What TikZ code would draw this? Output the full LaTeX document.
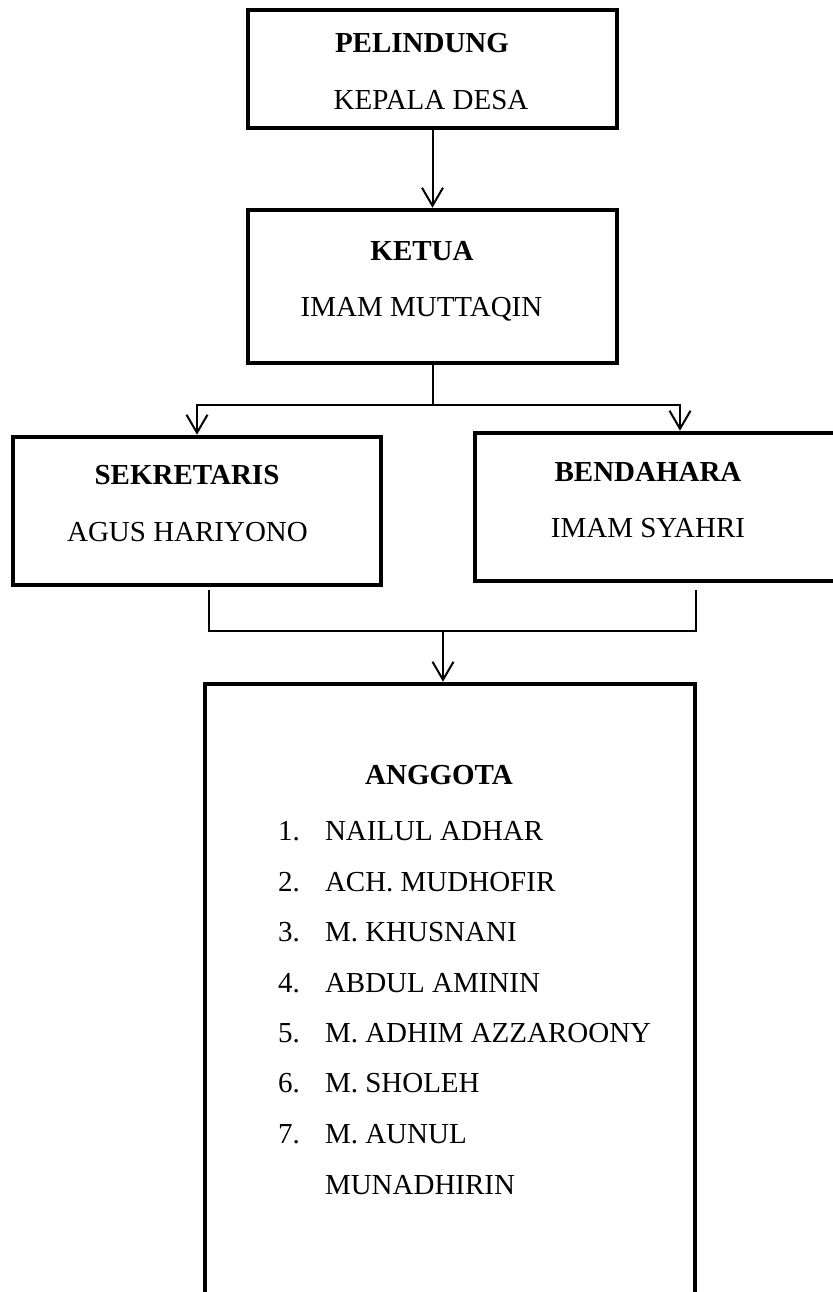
\documentclass[tikz,border=0pt]{standalone}
\usepackage{fontspec}
\setmainfont{Liberation Serif}
\usetikzlibrary{arrows.meta}

\begin{document}
\begin{tikzpicture}[line width=0.04cm,>={Straight Barb[length=0.36cm,width=0.42cm]},
  box/.style={draw,line width=0.09cm,minimum width=7.38cm,minimum height=2.36cm},
  head/.style={anchor=base,font=\fontsize{16.5}{20}\selectfont\bfseries},
  person/.style={anchor=base,font=\fontsize{16.5}{20}\selectfont},
  member/.style={anchor=base west,inner sep=0pt,font=\fontsize{16.5}{20}\selectfont}]
\useasboundingbox (0,0) rectangle (16.66,25.84);
% boxes
\node[box] (pelindung) at (8.65,24.46) {};
\node[box,minimum height=3.06cm] (ketua) at (8.65,20.11) {};
\node[box,minimum width=7.36cm,minimum height=2.96cm] (sekretaris) at (3.94,15.62) {};
\node[box,minimum width=8.2cm,minimum height=2.96cm] (bendahara) at (13.6,15.70) {};
\node[box,minimum width=9.8cm,minimum height=12.52cm] (anggota) at (9.0,5.90) {};
% texts
\node[head] (pelindung-t) at (8.44,24.78) {PELINDUNG};
\node[person] (pelindung-n) at (8.62,23.64) {KEPALA DESA};
\node[head] (ketua-t) at (8.44,20.62) {KETUA};
\node[person] (ketua-n) at (8.43,19.50) {IMAM MUTTAQIN};
\node[head] (sekretaris-t) at (3.74,16.14) {SEKRETARIS};
\node[person] (sekretaris-n) at (3.75,15.00) {AGUS HARIYONO};
\node[head] (bendahara-t) at (12.96,16.20) {BENDAHARA};
\node[person] (bendahara-n) at (12.96,15.08) {IMAM SYAHRI};
\node[head] (anggota-t) at (8.78,10.14) {ANGGOTA};
\node[member] (n1) at (5.54,9.02) {1.};
\node[member] (a1) at (6.48,9.02) {NAILUL ADHAR};
\node[member] (n2) at (5.54,8.00) {2.};
\node[member] (a2) at (6.48,8.00) {ACH. MUDHOFIR};
\node[member] (n3) at (5.54,7.00) {3.};
\node[member] (a3) at (6.48,7.00) {M. KHUSNANI};
\node[member] (n4) at (5.54,5.98) {4.};
\node[member] (a4) at (6.48,5.98) {ABDUL AMININ};
\node[member] (n5) at (5.54,4.98) {5.};
\node[member] (a5) at (6.48,4.98) {M. ADHIM AZZAROONY};
\node[member] (n6) at (5.54,3.98) {6.};
\node[member] (a6) at (6.48,3.98) {M. SHOLEH};
\node[member] (n7) at (5.54,2.96) {7.};
\node[member] (a7) at (6.48,2.96) {M. AUNUL};
\node[member] (a7b) at (6.48,1.94) {MUNADHIRIN};
% connectors
\draw[->] (pelindung) -- (ketua);
\draw (ketua.south) -- ++(0,-0.8) coordinate (split);
\draw[->] (split) -| (sekretaris.north);
\draw[->] (split) -| (bendahara.north);
\coordinate (join) at (8.86,13.22);
\draw ([xshift=0.24cm,yshift=-0.06cm]sekretaris.south) |- (join) -| ([xshift=0.32cm,yshift=-0.13cm]bendahara.south);
\draw[->] (join) -- (join |- anggota.north);
\end{tikzpicture}
\end{document}
